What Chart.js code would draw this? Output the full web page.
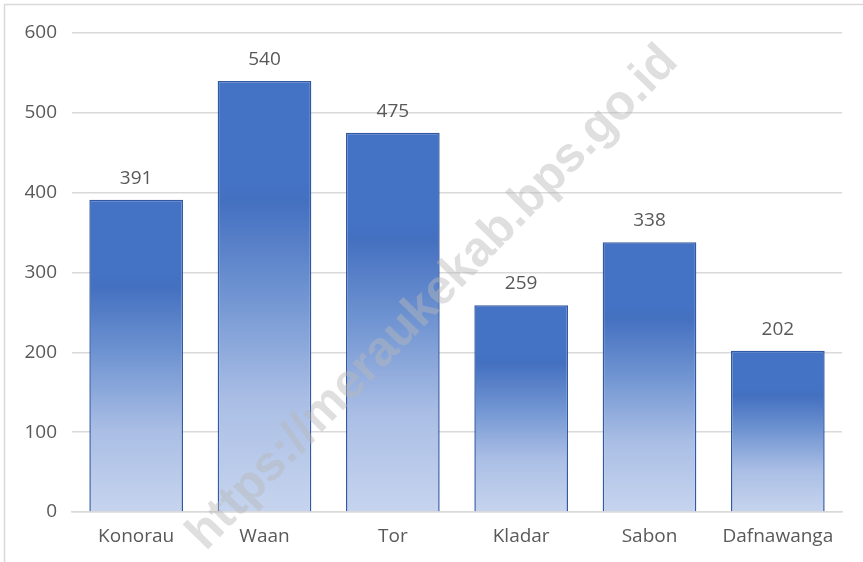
<!DOCTYPE html>
<html>
<head>
<meta charset="utf-8">
<script src="https://cdn.jsdelivr.net/npm/chart.js@4.4.1/dist/chart.umd.min.js"></script>
<style>
  html, body { margin: 0; padding: 0; background: #fff; }
  #wrap { width: 863px; height: 562px; }
</style>
</head>
<body>
<div id="wrap"><canvas id="myChart" width="863" height="562"></canvas></div>
<script>
let categories = ["Konorau", "Waan", "Tor", "Kladar", "Sabon", "Dafnawanga"];
let values = [391, 540, 475, 259, 338, 202];
let yTicks = [0, 100, 200, 300, 400, 500, 600];
let watermark = "https://meraukekab.bps.go.id";

const FONT = "'Open Sans', 'Noto Sans', sans-serif";

// each bar gets its own gradient, top to bottom
function barGradient(context) {
    const chart = context.chart;
    const yScale = chart.scales.y;
    if (!chart.chartArea || !yScale) return "#4472C4";
    const v = context.raw;
    const top = yScale.getPixelForValue(v);
    const bottom = yScale.getPixelForValue(0);
    const g = chart.ctx.createLinearGradient(0, top, 0, bottom);
    g.addColorStop(0, "#4472C4");
    g.addColorStop(0.24, "#4472C4");
    g.addColorStop(0.28, "#4470C0");
    g.addColorStop(0.5, "#7195D2");
    g.addColorStop(0.74, "#AABEE5");
    g.addColorStop(1, "#C6D4EE");
    return g;
}

const frame = {
    id: "frame",
    beforeDraw(chart) {
        const ctx = chart.ctx;
        ctx.save();
        ctx.fillStyle = "#fff";
        ctx.fillRect(0, 0, chart.width, chart.height);
        ctx.strokeStyle = "#D9D9D9";
        ctx.lineWidth = 1.5;
        ctx.beginPath();
        ctx.moveTo(4.5, chart.height);
        ctx.lineTo(4.5, 4.5);
        ctx.lineTo(chart.width, 4.5);
        ctx.stroke();
        ctx.restore();
    }
};

const valueLabels = {
    id: "valueLabels",
    afterDatasetsDraw(chart) {
        const ctx = chart.ctx;
        const meta = chart.getDatasetMeta(0);
        ctx.save();
        ctx.font = "19px " + FONT;
        ctx.fillStyle = "#595959";
        ctx.textAlign = "center";
        ctx.textBaseline = "alphabetic";
        meta.data.forEach((bar, i) => {
            ctx.fillText(values[i], bar.x, bar.y - 16);
        });
        ctx.restore();
    }
};

const stamp = {
    id: "stamp",
    afterDraw(chart) {
        const ctx = chart.ctx;
        ctx.save();
        ctx.translate(433, 298);
        ctx.rotate(-Math.PI / 4 - 0.015);
        ctx.font = "bold 49px 'Liberation Sans', Arial, sans-serif";
        ctx.fillStyle = "rgba(185,185,185,0.45)";
        ctx.textAlign = "center";
        ctx.textBaseline = "middle";
        ctx.fillText(watermark, 0, 0);
        ctx.restore();
    }
};

const ctx = document.getElementById("myChart").getContext("2d");
const myChart = new Chart(ctx, {
    type: "bar",
    data: {
        labels: categories,
        datasets: [{
            data: values,
            backgroundColor: barGradient,
            borderColor: "#325AA4",
            borderWidth: 1.5,
            barPercentage: 0.73,
            categoryPercentage: 1
        }]
    },
    options: {
        responsive: false,
        animation: false,
        layout: { padding: { left: 0, top: 33, right: 21, bottom: 0 } },
        plugins: {
            legend: { display: false },
            tooltip: { enabled: false }
        },
        scales: {
            y: {
                min: 0,
                max: 600,
                afterFit: (s) => { s.width = 72; },
                afterBuildTicks: (s) => { s.ticks = yTicks.map(v => ({ value: v })); },
                border: { display: false },
                grid: { color: "#D9D9D9", lineWidth: 1.5, drawTicks: false },
                ticks: {
                    padding: 15,
                    color: "#595959",
                    font: { size: 19, family: FONT }
                }
            },
            x: {
                afterFit: (s) => { s.height = 50; },
                border: { display: true, color: "#D9D9D9", width: 1.5 },
                grid: { display: false },
                ticks: {
                    padding: 5,
                    color: "#595959",
                    font: { size: 19, family: FONT }
                }
            }
        }
    },
    plugins: [frame, valueLabels, stamp]
});
</script>
</body>
</html>
